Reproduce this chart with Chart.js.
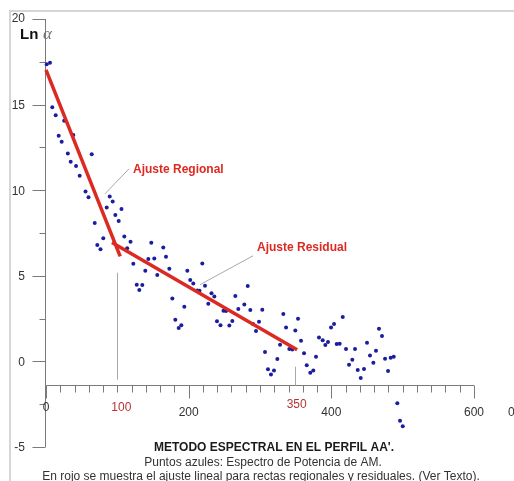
<!DOCTYPE html>
<html>
<head>
<meta charset="utf-8">
<script src="https://cdn.jsdelivr.net/npm/chart.js@4/dist/chart.umd.min.js"></script>
<style>
  html, body { margin: 0; padding: 0; background: #fff; }
  canvas { display: block; }
</style>
</head>
<body>
<canvas id="chart" width="514" height="481"></canvas>
<script>
// spectrum points (blue): frequency and ln of power
const specX = [1, 5.6, 8.8, 13.6, 25.5, 17.8, 22, 38.3, 30.6, 64.1,
  34.6, 42.1, 47.2, 55.4, 59.6, 89.3, 93.5, 85.1, 105.8, 97.2,
  101.9, 68.3, 80.3, 109.8, 118.5, 71.9, 76.4, 113.8, 147.6, 164.4,
  143.4, 151.8, 168.2, 122.4, 139.2, 172.9, 156, 219.1, 198.1, 202.2,
  206.5, 127.2, 135, 130.8, 212.1, 215.2, 222.9, 232, 236, 177.1,
  227.5, 193.9, 248.8, 252.3, 181.3, 239.7, 244.6, 189.7, 186, 257,
  261.2, 282.8, 265.4, 278, 269.6, 286.4, 303.2, 290.2, 298.6, 294.4,
  332.7, 353.3, 336.5, 349.5, 357.5, 328.1, 341.1, 345.3, 307, 361.7,
  324.3, 378.5, 382.7, 387.9, 395.3, 391.6, 399.6, 403.8, 416, 365.5,
  311.2, 319.6, 315.4, 374.7, 370.5, 407.5, 411.7, 420.6, 433.2, 429.4,
  424.8, 437, 441.2, 445.8, 450, 454.2, 458.9, 462.6, 466.8, 471,
  475.3, 479.5, 483.2, 487.5, 492.5, 496.3, 500.1];
const specLn = [17.36, 17.44, 14.85, 14.38, 14.05, 13.18, 12.83, 13.22, 12.14, 12.10,
  11.66, 11.42, 10.84, 9.92, 9.59, 9.63, 9.34, 8.99, 8.90, 8.55,
  8.20, 8.08, 7.20, 7.30, 6.99, 6.80, 6.55, 6.61, 6.93, 6.65,
  5.98, 6.01, 6.11, 5.70, 5.29, 5.41, 5.04, 5.72, 5.29, 4.75,
  4.55, 4.48, 4.46, 4.17, 4.14, 4.12, 4.42, 3.98, 3.79, 3.68,
  3.37, 3.19, 2.96, 2.94, 2.43, 2.35, 2.11, 2.11, 1.95, 2.10,
  2.36, 4.40, 3.82, 3.33, 3.06, 3.00, 3.02, 2.18, 2.32, 1.77,
  2.77, 2.49, 1.98, 1.81, 1.21, 0.97, 0.72, 0.70, 0.55, 0.47,
  0.14, 0.27, 1.40, 1.24, 1.14, 0.96, 1.98, 2.18, 2.59, -0.23,
  -0.46, -0.53, -0.76, -0.53, -0.66, 1.02, 1.03, 0.72, 0.72, 0.10,
  -0.19, -0.50, -0.97, -0.44, 1.09, 0.35, -0.08, 0.62, 1.91, 1.48,
  0.16, -0.56, 0.22, 0.27, -2.45, -3.46, -3.79];

// red linear fits
const regionalX = [0, 104];
const regionalY = [17.03, 6.13];
const residualX = [92.5, 352];
const residualY = [6.95, 0.68];

// axis ticks
const yTicks = [-5, 0, 5, 10, 15, 20];
const xTicks = [0, 200, 400, 600];
const breakX = [100, 350];

const RED = "#dc2a22";
const FONT = "'Liberation Sans', Arial, sans-serif";

const toPoints = (xs, ys) => xs.map((x, i) => ({ x: x, y: ys[i] }));

const decor = {
  id: "decor",
  beforeDatasetsDraw(chart) {
    const c = chart.ctx;
    const sx = chart.scales.x, sy = chart.scales.y;
    const px = (v) => sx.getPixelForValue(v);
    const py = (v) => sy.getPixelForValue(v);
    c.save();

    // frame
    c.strokeStyle = "#d6d6d6";
    c.lineWidth = 2;
    c.beginPath();
    c.moveTo(10, 481); c.lineTo(10, 11); c.lineTo(514, 11);
    c.stroke();

    // y axis
    c.strokeStyle = "#7a7a7a";
    c.lineWidth = 1;
    const ax = Math.round(px(0)) - 0.5;
    c.beginPath();
    c.moveTo(ax, py(20)); c.lineTo(ax, py(-5));
    for (let v = -5; v <= 20; v += 2.5) {
      const y = Math.round(py(v)) + 0.5;
      const len = v % 5 === 0 ? 13 : 6;
      c.moveTo(ax - len, y); c.lineTo(ax, y);
    }
    c.stroke();
    c.fillStyle = "#333";
    c.font = "12px " + FONT;
    c.textAlign = "right";
    c.textBaseline = "middle";
    yTicks.forEach((v) => c.fillText(String(v), 25, py(v) + (v === 20 ? 0 : 1)));

    // x axis
    const ay = Math.round(py(-1.36)) + 0.5;
    c.beginPath();
    c.moveTo(px(0) + 0.5, ay); c.lineTo(px(600), ay);
    for (let v = 0; v <= 600; v += 20) {
      const x = Math.round(px(v)) + 0.5;
      const len = v % 200 === 0 ? 13 : 7;
      c.moveTo(x, ay); c.lineTo(x, ay + len);
    }
    c.stroke();
    c.textAlign = "center";
    xTicks.forEach((v) => c.fillText(String(v), px(v), v === 0 ? 408 : 413));
    c.textAlign = "left";
    c.fillText("0", 508, 413);

    // break markers
    c.strokeStyle = "#a8a8a8";
    c.beginPath();
    c.moveTo(Math.round(px(breakX[0])) + 0.5, py(5.18));
    c.lineTo(Math.round(px(breakX[0])) + 0.5, py(-1.07));
    c.moveTo(Math.round(px(breakX[1])) - 0.5, py(-0.31));
    c.lineTo(Math.round(px(breakX[1])) - 0.5, ay);
    // leaders
    c.moveTo(px(82.7), py(9.79)); c.lineTo(px(116.4), py(11.25));
    c.moveTo(px(215.9), py(4.48)); c.lineTo(px(290.2), py(6.17));
    c.stroke();

    c.fillStyle = "#b83232";
    c.textAlign = "center";
    c.fillText(String(breakX[0]), px(breakX[0]) + 4, 408);
    c.fillText(String(breakX[1]), px(breakX[1]) + 1, 405);
    c.restore();
  },
  afterDatasetsDraw(chart) {
    const c = chart.ctx;
    const sx = chart.scales.x, sy = chart.scales.y;
    const px = (v) => sx.getPixelForValue(v);
    const py = (v) => sy.getPixelForValue(v);
    c.save();
    c.textBaseline = "middle";

    c.fillStyle = RED;
    c.font = "bold 12px " + FONT;
    c.textAlign = "left";
    c.fillText("Ajuste Regional", px(122), py(11.19));
    c.fillText("Ajuste Residual", px(295.8), py(6.65));

    // axis title
    c.fillStyle = "#111";
    c.font = "bold 15px " + FONT;
    c.textBaseline = "alphabetic";
    c.fillText("Ln", 20, 39);
    c.fillStyle = "#777";
    c.font = "italic 17px 'Liberation Serif', 'DejaVu Serif', serif";
    c.fillText("α", 43, 39);

    // caption
    c.fillStyle = "#1a1a1a";
    c.textAlign = "center";
    c.textBaseline = "middle";
    c.font = "bold 12px " + FONT;
    c.fillText("METODO ESPECTRAL EN EL PERFIL AA'.", 274, 448);
    c.fillStyle = "#333";
    c.font = "12px " + FONT;
    c.fillText("Puntos azules: Espectro de Potencia de AM.", 263, 463);
    c.fillText("En rojo se muestra el ajuste lineal para rectas regionales y residuales. (Ver Texto).", 261, 477);
    c.restore();
  }
};

new Chart(document.getElementById("chart"), {
  type: "scatter",
  data: {
    datasets: [
      {
        data: toPoints(specX, specLn),
        pointRadius: 2,
        pointBackgroundColor: "#1c1ca0",
        pointBorderWidth: 0,
        order: 2,
        clip: false
      },
      {
        type: "line",
        data: toPoints(regionalX, regionalY),
        borderColor: RED,
        borderWidth: 3.5,
        pointRadius: 0,
        order: 1,
        clip: false
      },
      {
        type: "line",
        data: toPoints(residualX, residualY),
        borderColor: RED,
        borderWidth: 3.5,
        pointRadius: 0,
        order: 1,
        clip: false
      }
    ]
  },
  options: {
    responsive: false,
    animation: false,
    layout: { padding: { left: 46, right: 40, top: 19, bottom: 34 } },
    scales: {
      x: { type: "linear", min: 0, max: 600, display: false },
      y: { type: "linear", min: -5, max: 20, display: false }
    },
    plugins: { legend: { display: false }, tooltip: { enabled: false } }
  },
  plugins: [decor]
});
</script>
</body>
</html>
